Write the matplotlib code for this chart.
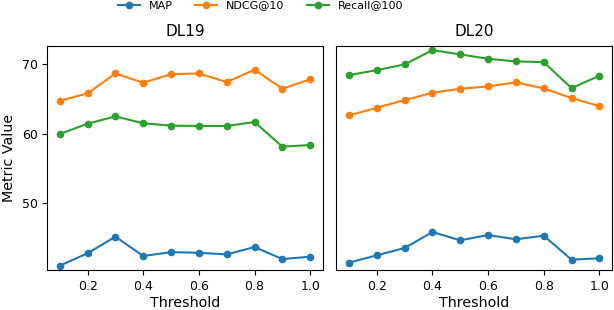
import numpy as np
import matplotlib
matplotlib.use("Agg")
import matplotlib.pyplot as plt

thresholds = [0.1, 0.2, 0.3, 0.4, 0.5, 0.6, 0.7, 0.8, 0.9, 1.0]

# DL19
dl19_map = [41.05, 42.82, 45.21, 42.43, 42.99, 42.90, 42.66, 43.72, 41.99, 42.33]
dl19_ndcg = [64.73, 65.79, 68.66, 67.32, 68.56, 68.66, 67.42, 69.19, 66.46, 67.80]
dl19_recall = [59.96, 61.44, 62.49, 61.49, 61.16, 61.11, 61.11, 61.68, 58.14, 58.37]

# DL20
dl20_map = [41.48, 42.53, 43.58, 45.88, 44.68, 45.45, 44.83, 45.35, 41.91, 42.10]
dl20_ndcg = [62.63, 63.73, 64.83, 65.88, 66.46, 66.79, 67.37, 66.51, 65.12, 63.97]
dl20_recall = [68.42, 69.14, 69.95, 72.01, 71.39, 70.77, 70.38, 70.29, 66.55, 68.32]

fig = plt.figure(figsize=(6.14, 3.10), dpi=100)
ax1 = fig.add_axes([0.077, 0.129, 0.4485, 0.7226])
ax2 = fig.add_axes([0.548, 0.129, 0.4485, 0.7226], sharey=ax1)

def panel(ax, m, n, r, title):
    ax.plot(thresholds, m, marker="o", ms=4.5, lw=1.5, color="tab:blue", label="MAP")
    ax.plot(thresholds, n, marker="o", ms=4.5, lw=1.5, color="tab:orange", label="NDCG@10")
    ax.plot(thresholds, r, marker="o", ms=4.5, lw=1.5, color="tab:green", label="Recall@100")
    ax.set_title(title, fontsize=11, pad=7)
    ax.set_xlabel("Threshold", fontsize=10.3, labelpad=2)
    ax.set_xticks([0.2, 0.4, 0.6, 0.8, 1.0])
    ax.tick_params(labelsize=9)

panel(ax1, dl19_map, dl19_ndcg, dl19_recall, "DL19")
panel(ax2, dl20_map, dl20_ndcg, dl20_recall, "DL20")

ax1.set_ylabel("Metric Value", fontsize=10.3)
ax1.set_yticks([50, 60, 70])
ax1.set_ylim(40.42, 72.6)
ax2.tick_params(left=False, labelleft=False)

handles, labels = ax1.get_legend_handles_labels()
fig.legend(handles, labels, loc="center", ncol=3, frameon=False,
           fontsize=8, bbox_to_anchor=(0.424, 0.982), columnspacing=2.0,
           handlelength=2.0, borderpad=0.2)

fig.savefig("out.png", dpi=100)
